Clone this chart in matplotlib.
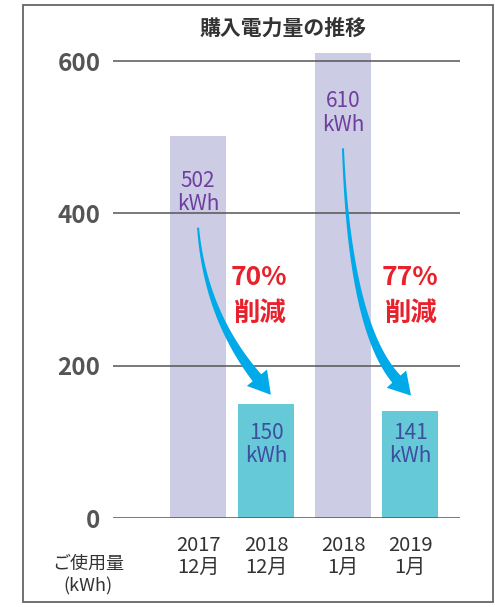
import numpy as np
import matplotlib
matplotlib.use('Agg')
import matplotlib.pyplot as plt
from matplotlib.patches import Polygon, Rectangle
from matplotlib.transforms import IdentityTransform

plt.rcParams['font.family'] = ['Noto Sans CJK JP', 'DejaVu Sans']

# data
periods = ['2017\n12月', '2018\n12月', '2018\n1月', '2019\n1月']
usage = [502, 150, 610, 141]
reductions = ['70%', '77%']
yticks = [0, 200, 400, 600]

x_pos = [0, 1, 2.13, 3.12]
bar_colors = ['#CCCCE4', '#66C9D8', '#CCCCE4', '#66C9D8']
label_colors = ['#6F3FA0', '#3D4E9F', '#6F3FA0', '#3D4E9F']
label_drop = [34, 18, 37, 11]   # px below bar top to first label line


def draw_arrow(ax, start, tip, fy, color='#00A9E8'):
    """Tapered curved arrow, computed in display pixels."""
    S = ax.transData.transform(start)
    T = ax.transData.transform(tip)
    d = T - S
    C = np.array([S[0] + 0.1 * d[0], S[1] + fy * d[1]])
    u = (T - C) / np.linalg.norm(T - C)
    B = T - 22 * u
    t = np.linspace(0, 1, 60)[:, None]
    pts = (1 - t) ** 2 * S + 2 * (1 - t) * t * C + t ** 2 * B
    tang = np.gradient(pts, axis=0)
    tang /= np.linalg.norm(tang, axis=1)[:, None]
    nrm = np.column_stack([-tang[:, 1], tang[:, 0]])
    w = (1.0 + 4.5 * t[:, 0] ** 1.3)[:, None]
    left = pts + nrm * w
    right = pts - nrm * w
    n = np.array([-u[1], u[0]])
    head = [B + n * 13, T, B - n * 13]
    poly = np.vstack([left, head, right[::-1]])
    ax.add_patch(Polygon(poly, closed=True, color=color, lw=0,
                         transform=IdentityTransform(), zorder=4))


fig = plt.figure(figsize=(4.95, 6.07), dpi=100)
ax = fig.add_axes([113 / 495, 89 / 607, 347 / 495, 472.2 / 607])
ax.set_xlim(-1.25, 3.85)
ax.set_ylim(0, 620)

ax.bar(x_pos, usage, width=0.82, color=bar_colors, zorder=1)
for y in yticks:
    ax.axhline(y, color='#555555', lw=1.1, zorder=2)

for s in ax.spines.values():
    s.set_visible(False)
ax.set_yticks(yticks)
ax.set_yticklabels([str(v) for v in yticks], fontsize=17.5, fontweight='bold',
                   color='#555555')
ax.tick_params(axis='y', length=0, pad=9)
ax.set_xticks(x_pos)
ax.set_xticklabels(periods, fontsize=14.5, color='#333333', linespacing=1.1)
ax.tick_params(axis='x', length=0, pad=12)

for xp, v, c, dr in zip(x_pos, usage, label_colors, label_drop):
    ax.annotate(f'{v}\nkWh', (xp, v), xytext=(0, -dr * 0.72), textcoords='offset points',
                ha='center', va='top', fontsize=15, color=c, linespacing=1.1, zorder=5)

# reduction arrows + text
for i, (a, b) in enumerate([(0, 1), (2, 3)]):
    fig.canvas.draw()
    start = (x_pos[a], usage[a] - [92, 95][i] / 0.7617)
    tip = (x_pos[b] + [0.07, 0.01][i], usage[b] + [9, 15][i] / 0.7617)
    draw_arrow(ax, start, tip, fy=[0.52, 0.72][i])
    tx = x_pos[b] - [0.1, 0.0][i]
    ax.text(tx, 316, reductions[i], ha='center', va='center', fontsize=19,
            fontweight='bold', color='#E8222C', zorder=5)
    ax.text(tx, 269, '削減', ha='center', va='center', fontsize=19,
            fontweight='bold', color='#E8222C', zorder=5)

fig.text(283 / 495, 1 - 28 / 607, '購入電力量の推移', ha='center', va='center',
         fontsize=15, fontweight='bold', color='#333333')
fig.text(88 / 495, 1 - 575 / 607, 'ご使用量\n(kWh)', ha='center', va='center',
         fontsize=13, color='#333333', linespacing=1.3)

fig.add_artist(Rectangle((22.5 / 495, 5 / 607), 470 / 495, 597 / 607, fill=False,
                         edgecolor='#666666', lw=1.3, transform=fig.transFigure))

fig.savefig('out.png', dpi=100)
